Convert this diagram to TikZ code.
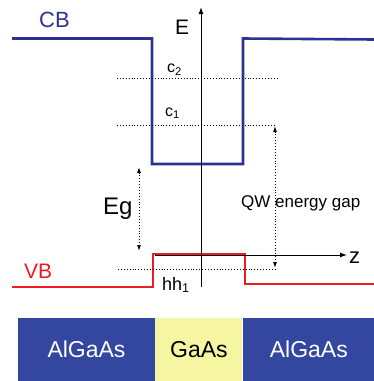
\documentclass[tikz,border=0pt]{standalone}
\usepackage{fontspec}
\setmainfont{Liberation Sans}
\definecolor{BandBlue}{HTML}{2E3192}
\definecolor{BandRed}{HTML}{ED1C24}
\definecolor{LayerBlue}{HTML}{3346A0}
\definecolor{LayerYellow}{HTML}{F6F6A2}
\usetikzlibrary{arrows.meta,positioning}

\begin{document}
\begin{tikzpicture}[x=1pt,y=-1pt,
cb/.style={draw=BandBlue,line width=2.6pt},
vb/.style={draw=BandRed,line width=2.6pt},
axis/.style={-{Latex[length=7pt,width=5pt]},line width=1pt},
level/.style={dotted,line width=0.9pt},
gap/.style={{Latex[length=6pt,width=4pt]}-{Latex[length=6pt,width=4pt]},dotted,line width=0.9pt},
layer/.style={draw=none,minimum height=63pt,inner sep=0pt,font=\fontsize{23}{23}\selectfont},
lbl/.style={inner sep=0pt,anchor=base west}
]
\useasboundingbox (0,0) rectangle (374,381);

% layers
\node[layer,fill=LayerBlue,text=white,minimum width=137pt] (algaasL) at (86.5,349.5) {AlGaAs};
\node[layer,fill=LayerYellow,minimum width=87pt,right=0pt of algaasL] (gaas) {GaAs};
\node[layer,fill=LayerBlue,text=white,minimum width=132pt,right=0pt of gaas] (algaasR) {AlGaAs};

% band edges
\draw[cb] (12,38.5) -- (152,38.5) -- (152,164) -- (243,164) -- (243,38.5) -- (374,39.5);
\draw[vb] (12,287) -- (153,287) -- (153,254) -- (245,254) -- (245,284) -- (374,284);

% levels
\draw[level] (117,78) -- (278,78);
\draw[level] (117,125) -- (275,125);
\draw[level] (118,269) -- (275,269);

% axes
\coordinate (eBot) at (201,287);
\coordinate (eTop) at (201,7);
\coordinate (zL) at (155,255);
\coordinate (zR) at (347,255);
\draw[axis] (eBot) -- (eTop);
\draw[axis] (zL) -- (zR);

% gaps
\coordinate (egTop) at (139,167);
\coordinate (egBot) at (139,251);
\coordinate (qwTop) at (275,126);
\coordinate (qwBot) at (275,268);
\draw[gap] (egTop) -- (egBot);
\draw[gap] (qwTop) -- (qwBot);

% labels
\node[lbl,text=BandBlue,font=\fontsize{22}{22}\selectfont] (cbLbl) at (39,27.5) {CB};
\node[lbl,font=\fontsize{21}{21}\selectfont] (eLbl) at (175,34) {E};
\node[lbl,font=\fontsize{22}{22}\selectfont] (zLbl) at (349,263) {z};
\node[lbl,font=\fontsize{16}{16}\selectfont] (c2Lbl) at (167,72.7) {c\textsubscript{2}};
\node[lbl,font=\fontsize{16}{16}\selectfont] (c1Lbl) at (165,116) {c\textsubscript{1}};
\node[lbl,font=\fontsize{24}{24}\selectfont] (egLbl) at (103,214) {Eg};
\node[lbl,font=\fontsize{17}{17}\selectfont] (qwLbl) at (241,207) {QW energy gap};
\node[lbl,text=BandRed,font=\fontsize{21}{21}\selectfont] (vbLbl) at (24,278) {VB};
\node[lbl,font=\fontsize{18}{18}\selectfont] (hhLbl) at (162,290) {hh\textsubscript{1}};
\end{tikzpicture}
\end{document}
